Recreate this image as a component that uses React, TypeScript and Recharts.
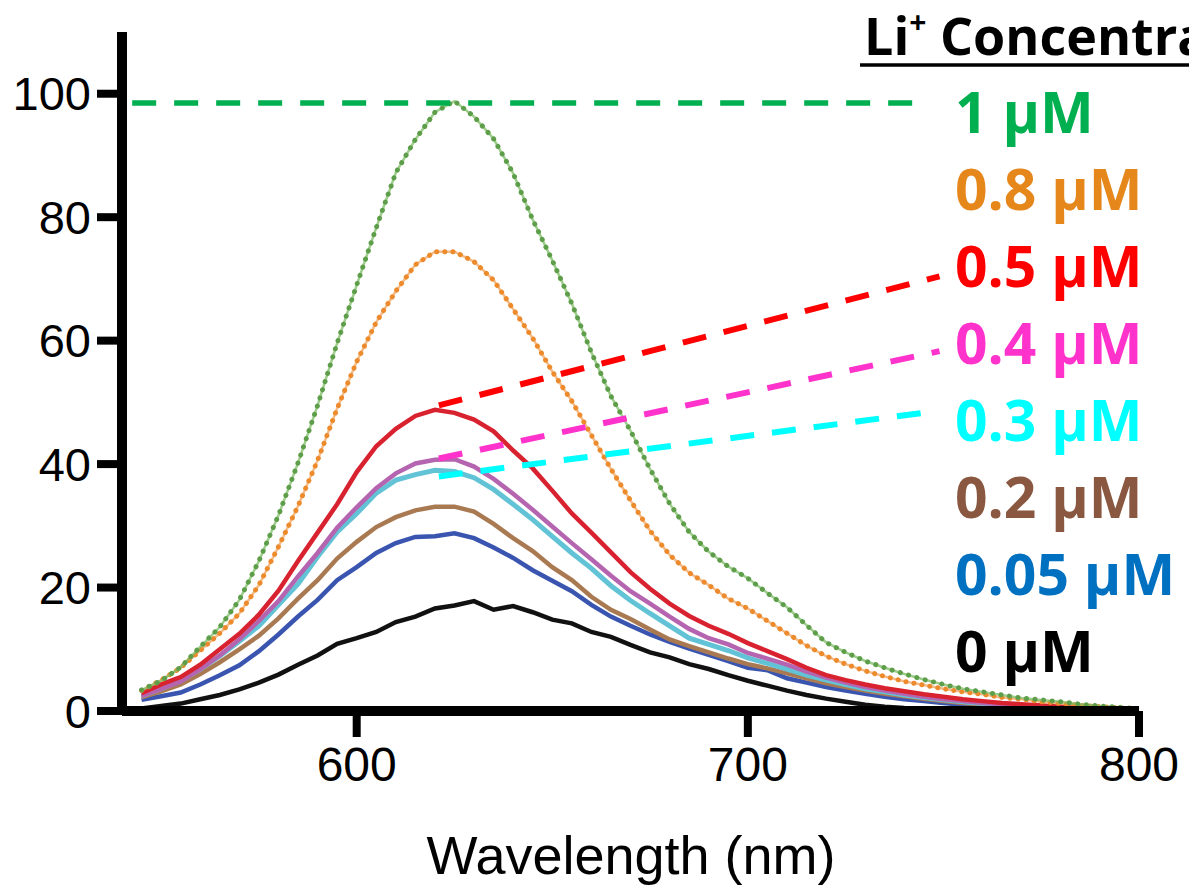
import React from 'react';
import { LineChart, Line, XAxis, YAxis, ReferenceLine } from 'recharts';

const WAVELENGTH = [
  545, 550, 555, 560, 565, 570, 575, 580, 585, 590,
  595, 600, 605, 610, 615, 620, 625, 630, 635, 640,
  645, 650, 655, 660, 665, 670, 675, 680, 685, 690,
  695, 700, 705, 710, 715, 720, 725, 730, 735, 740,
  745, 750, 755, 760, 765, 770, 775, 780, 785, 790,
  795, 800,
];

const LI_1 = [
  3.4, 4.9, 7.1, 10.4, 13.6, 18.0, 24.3, 31.7, 40.2, 49.5,
  59.6, 69.0, 78.3, 87.2, 92.6, 97.0, 98.8, 96.3, 92.7, 87.1,
  79.6, 73.0, 66.0, 58.1, 51.0, 45.4, 39.2, 33.6, 29.0, 25.8,
  23.4, 21.5, 19.1, 16.8, 13.9, 11.1, 9.5, 8.1, 7.0, 6.0,
  5.1, 4.3, 3.6, 3.1, 2.6, 2.1, 1.8, 1.5, 1.1, 0.8,
  0.6, 0.4,
];
const LI_08 = [
  3.3, 5.0, 7.0, 9.8, 12.6, 15.8, 20.4, 26.6, 33.2, 40.6,
  49.0, 56.6, 63.0, 68.0, 72.3, 74.4, 74.4, 72.8, 69.8, 65.1,
  60.4, 55.0, 50.2, 44.7, 39.2, 34.1, 29.2, 25.3, 22.4, 20.4,
  18.2, 16.6, 14.6, 12.6, 10.6, 8.9, 7.6, 6.5, 5.6, 4.8,
  4.2, 3.6, 3.1, 2.7, 2.2, 1.9, 1.5, 1.2, 0.9, 0.7,
  0.5, 0.3,
];
const LI_05 = [
  2.9, 4.3, 5.5, 7.5, 10.0, 12.5, 15.6, 19.5, 24.3, 28.9,
  33.5, 38.7, 42.9, 45.7, 47.8, 48.8, 48.3, 47.2, 45.3, 42.2,
  39.3, 35.7, 32.0, 28.9, 25.7, 22.5, 19.8, 17.4, 15.4, 13.8,
  12.5, 11.0, 9.7, 8.4, 7.0, 5.8, 5.0, 4.3, 3.7, 3.2,
  2.7, 2.3, 1.9, 1.6, 1.3, 1.1, 0.9, 0.7, 0.5, 0.4,
  0.3, 0.2,
];
const LI_04 = [
  2.4, 3.6, 4.8, 6.8, 9.0, 11.6, 14.6, 17.8, 21.8, 25.6,
  29.7, 33.0, 36.1, 38.5, 40.1, 40.7, 40.8, 39.6, 37.6, 35.2,
  32.6, 29.9, 27.2, 24.6, 21.9, 19.4, 17.4, 15.3, 13.3, 11.8,
  10.8, 9.4, 8.5, 7.5, 6.4, 5.4, 4.6, 3.9, 3.3, 2.8,
  2.3, 1.9, 1.6, 1.3, 1.1, 0.9, 0.7, 0.6, 0.4, 0.3,
  0.2, 0.2,
];
const LI_03 = [
  2.4, 3.6, 4.9, 6.8, 8.9, 11.3, 13.8, 17.2, 20.6, 25.0,
  29.0, 32.0, 35.3, 37.4, 38.3, 39.0, 38.8, 37.8, 35.9, 33.5,
  31.0, 28.3, 25.6, 23.1, 20.3, 17.9, 15.8, 13.8, 11.8, 10.8,
  9.8, 8.6, 7.7, 6.8, 5.8, 5.0, 4.3, 3.6, 3.1, 2.6,
  2.2, 1.8, 1.5, 1.2, 1.0, 0.8, 0.6, 0.5, 0.4, 0.3,
  0.2, 0.1,
];
const LI_02 = [
  2.2, 3.2, 4.3, 6.0, 7.9, 10.0, 12.2, 15.0, 18.2, 21.2,
  24.7, 27.4, 29.8, 31.4, 32.5, 33.1, 33.1, 32.3, 30.3, 28.0,
  25.9, 23.3, 21.2, 18.5, 16.4, 14.9, 13.2, 11.6, 10.5, 9.5,
  8.5, 7.6, 6.9, 6.1, 5.3, 4.5, 3.9, 3.3, 2.8, 2.4,
  2.0, 1.6, 1.3, 1.1, 0.9, 0.7, 0.5, 0.4, 0.3, 0.2,
  0.2, 0.1,
];
const LI_005 = [
  1.8, 2.4, 3.0, 4.3, 5.8, 7.4, 9.7, 12.4, 15.3, 18.0,
  21.2, 23.3, 25.6, 27.2, 28.2, 28.3, 28.8, 28.0, 26.5, 24.8,
  22.8, 21.1, 19.4, 17.2, 15.3, 13.8, 12.4, 11.2, 10.1, 9.1,
  8.1, 7.0, 6.6, 5.3, 4.6, 3.9, 3.3, 2.8, 2.3, 1.9,
  1.6, 1.3, 1.0, 0.8, 0.7, 0.5, 0.4, 0.3, 0.2, 0.2,
  0.1, 0.1,
];
const LI_0 = [
  0.4, 0.8, 1.2, 1.9, 2.6, 3.5, 4.6, 5.9, 7.5, 9.0,
  10.9, 11.8, 12.8, 14.4, 15.3, 16.6, 17.1, 17.8, 16.4, 17.0,
  16.0, 14.8, 14.2, 12.8, 12.0, 10.7, 9.5, 8.7, 7.6, 6.8,
  5.8, 4.9, 4.1, 3.3, 2.6, 2.0, 1.5, 1.0, 0.7, 0.5,
  0.4, 0.3, 0.2, 0.2, 0.1, 0.1, 0.1, 0.1, 0.1, 0.0,
  0.0, 0.0,
];

const X_TICKS = [600, 700, 800];
const Y_TICKS = [0, 20, 40, 60, 80, 100];

const LEGEND_TITLE = 'Li';
const LEGEND_TITLE_REST = ' Concentration';
const LEGEND_LABELS = ['1 µM', '0.8 µM', '0.5 µM', '0.4 µM', '0.3 µM', '0.2 µM', '0.05 µM', '0 µM'];
const LEGEND_COLORS = ['#00B050', '#E6871C', '#FF0000', '#FF33CC', '#00FFFF', '#8A5841', '#0070C0', '#000000'];

// guide segments: [x1, y1, x2, y2] in data units
const GUIDE_1 = [542.6, 98.5, 745, 98.5];
const GUIDE_05 = [621, 49.5, 749, 70.4];
const GUIDE_04 = [621, 40.9, 749, 58.3];
const GUIDE_03 = [621, 38.0, 746, 48.4];

const rows = WAVELENGTH.map((nm, i) => ({
  nm,
  c0: LI_0[i],
  c005: LI_005[i],
  c02: LI_02[i],
  c03: LI_03[i],
  c04: LI_04[i],
  c05: LI_05[i],
  c08: LI_08[i],
  c1: LI_1[i],
}));

const W = 1189;
const H = 889;
const AXIS_FONT = '"Liberation Sans", Arial, Helvetica, sans-serif';
const LEGEND_FONT = '"Open Sans", "Noto Sans", sans-serif';

function seg(g: number[]) {
  return [{ x: g[0], y: g[1] }, { x: g[2], y: g[3] }];
}

export default function App() {
  const baselines = [133, 210, 287, 364, 441, 518, 595, 672];
  return (
    <div style={{ position: 'absolute', left: 0, top: 0, width: W, height: H, background: '#fff', overflow: 'hidden' }}>
      <LineChart width={W} height={H} data={rows} margin={{ top: 32, right: 50, bottom: 0, left: 0 }}>
        <XAxis
          dataKey="nm"
          type="number"
          domain={[540, 800]}
          ticks={X_TICKS}
          allowDataOverflow
          height={178}
          axisLine={{ stroke: '#000', strokeWidth: 10 }}
          tickLine={{ stroke: '#000', strokeWidth: 8 }}
          tickSize={26}
          tickMargin={10}
          tick={{ fill: '#000', fontSize: 48, fontFamily: AXIS_FONT }}
        />
        <YAxis
          type="number"
          domain={[0, 110]}
          ticks={Y_TICKS}
          allowDataOverflow
          width={122}
          axisLine={{ stroke: '#000', strokeWidth: 10 }}
          tickLine={{ stroke: '#000', strokeWidth: 8 }}
          tickSize={25}
          tickMargin={6}
          tick={{ fill: '#000', fontSize: 47, fontFamily: AXIS_FONT }}
        />
        <Line dataKey="c0" type="linear" stroke="#111111" strokeWidth={4.5} dot={false} isAnimationActive={false} />
        <Line dataKey="c005" type="linear" stroke="#3A55B0" strokeWidth={4.5} dot={false} isAnimationActive={false} />
        <Line dataKey="c02" type="linear" stroke="#A97A52" strokeWidth={4.5} dot={false} isAnimationActive={false} />
        <Line dataKey="c03" type="linear" stroke="#62C3D6" strokeWidth={5} dot={false} isAnimationActive={false} />
        <Line dataKey="c04" type="linear" stroke="#B565B0" strokeWidth={4.5} dot={false} isAnimationActive={false} />
        <Line dataKey="c05" type="linear" stroke="#D9222F" strokeWidth={4.5} dot={false} isAnimationActive={false} />
        <Line dataKey="c08" type="linear" stroke="#F0A055" strokeWidth={2.5} strokeOpacity={0.7} dot={false} isAnimationActive={false} />
        <Line dataKey="c08" type="linear" stroke="#EC8A2C" strokeWidth={5} strokeDasharray="0.1 8" strokeLinecap="round" dot={false} isAnimationActive={false} />
        <Line dataKey="c1" type="linear" stroke="#7DBE66" strokeWidth={2.5} strokeOpacity={0.75} dot={false} isAnimationActive={false} />
        <Line dataKey="c1" type="linear" stroke="#5E9E4A" strokeWidth={5} strokeDasharray="0.1 8.5" strokeLinecap="round" dot={false} isAnimationActive={false} />
        <ReferenceLine segment={seg(GUIDE_1)} stroke={LEGEND_COLORS[0]} strokeWidth={5.5} strokeDasharray="24 18" ifOverflow="visible" />
        <ReferenceLine segment={seg(GUIDE_05)} stroke={LEGEND_COLORS[2]} strokeWidth={6} strokeDasharray="24 18" ifOverflow="visible" />
        <ReferenceLine segment={seg(GUIDE_04)} stroke={LEGEND_COLORS[3]} strokeWidth={6} strokeDasharray="24 18" ifOverflow="visible" />
        <ReferenceLine segment={seg(GUIDE_03)} stroke={LEGEND_COLORS[4]} strokeWidth={6} strokeDasharray="24 18" ifOverflow="visible" />
      </LineChart>
      <svg width={W} height={H} style={{ position: 'absolute', left: 0, top: 0, pointerEvents: 'none', overflow: 'hidden' }}>
        <text x={864} y={55} fontFamily={LEGEND_FONT} fontWeight={700} fontSize={52} fill="#000">
          {LEGEND_TITLE}
          <tspan fontSize={30} dy={-22}>+</tspan>
          <tspan dy={22}>{LEGEND_TITLE_REST}</tspan>
        </text>
        <line x1={860} x2={W} y1={65} y2={65} stroke="#000" strokeWidth={3.5} />
        {LEGEND_LABELS.map((lab, i) => (
          <text key={lab} x={955} y={baselines[i]} fontFamily={LEGEND_FONT} fontWeight={700} fontSize={57} fill={LEGEND_COLORS[i]}>
            {lab}
          </text>
        ))}
        <text x={631} y={874} textAnchor="middle" fontFamily={AXIS_FONT} fontSize={54} fill="#000">
          Wavelength (nm)
        </text>
      </svg>
    </div>
  );
}
